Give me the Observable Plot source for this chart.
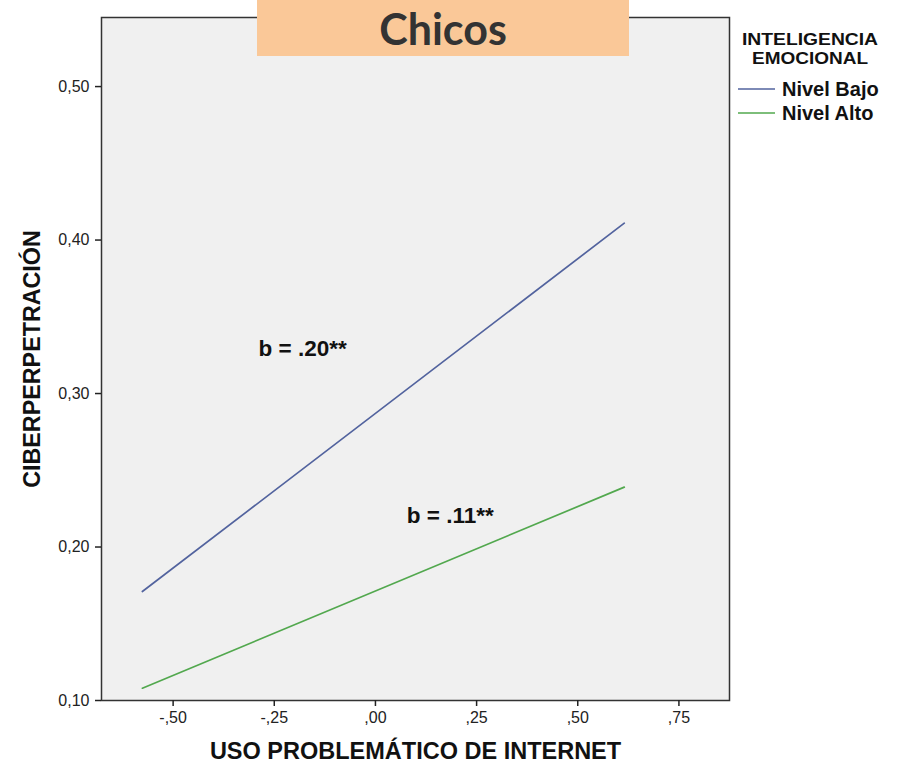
<!DOCTYPE html>
<html><head><meta charset="utf-8">
<script src="https://cdn.jsdelivr.net/npm/d3@7"></script>
<script src="https://cdn.jsdelivr.net/npm/@observablehq/plot@0.6"></script>
<style>
body{margin:0;background:#fff;}
#wrap{position:relative;width:899px;height:772px;font-family:"Liberation Sans",Arial,sans-serif;}
#title{position:absolute;left:257px;top:0;width:372px;height:56px;background:#fac898;color:#333;
font-family:Lato,"Open Sans",sans-serif;font-weight:bold;font-size:43px;line-height:58px;text-align:center;}
</style></head>
<body><div id="wrap"><div id="title">Chicos</div></div>
<script>
const xValues = [-0.576, 0.615];
const nivelBajo = [0.171, 0.411];
const nivelAlto = [0.108, 0.239];
const seriesNames = ["Nivel Bajo", "Nivel Alto"];
const seriesColors = ["#52639e", "#52a84e"];
const xTicks = [-0.5, -0.25, 0, 0.25, 0.5, 0.75];
const yTicks = [0.1, 0.2, 0.3, 0.4, 0.5];
const annoText = ["b = .20**", "b = .11**"];
const annoX = [-0.18, 0.185];
const annoY = [0.329, 0.2205];

const data = [];
xValues.forEach((x, i) => {
  data.push({x, y: nivelBajo[i], s: seriesNames[0]});
  data.push({x, y: nivelAlto[i], s: seriesNames[1]});
});
const annos = annoText.map((t, i) => ({t, x: annoX[i], y: annoY[i]}));

const fx = d => (d < 0 ? "-" : "") + d3.format(".2f")(Math.abs(d)).replace(/^0/, "").replace(".", ",");
const fy = d => d3.format(".2f")(d).replace(".", ",");

const font = "Liberation Sans, Arial, sans-serif";
const chart = Plot.plot({
  width: 899, height: 772,
  marginLeft: 101, marginRight: 170, marginTop: 17, marginBottom: 72,
  style: {fontFamily: font, background: "transparent", color: "#222"},
  x: {domain: [-0.677, 0.875]},
  y: {domain: [0.10, 0.545]},
  color: {domain: seriesNames, range: seriesColors},
  marks: [
    Plot.frame({fill: "#f0f0f0", stroke: "none"}),
    Plot.line(data, {x: "x", y: "y", z: "s", stroke: "s", strokeWidth: 1.7}),
    Plot.text(annos, {x: "x", y: "y", text: "t", fontSize: 22.5, fontWeight: "bold", fill: "#111"}),
    Plot.frame({stroke: "#333", strokeWidth: 1.5}),
    Plot.axisX({ticks: xTicks, tickFormat: fx, tickSize: 6, tickPadding: 5, fontSize: 16, label: null, stroke: "#222", strokeWidth: 1.5}),
    Plot.axisY({ticks: yTicks, tickFormat: fy, tickSize: 6, tickPadding: 6, fontSize: 16, label: null, stroke: "#222", strokeWidth: 1.5}),
    Plot.text(["CIBERPERPETRACIÓN"], {frameAnchor: "left", textAnchor: "middle", text: d => d, rotate: -90, dx: -69, fontSize: 23.3, fontWeight: "bold", fill: "#111"}),
    Plot.text(["USO PROBLEMÁTICO DE INTERNET"], {frameAnchor: "bottom", text: d => d, dy: 58, fontSize: 23.5, fontWeight: "bold", fill: "#111"})
  ]
});
document.getElementById("wrap").prepend(chart);

const svg = d3.select(chart);
const lg = svg.append("g").attr("font-family", font).attr("font-weight", "bold").attr("fill", "#111");
lg.append("text").attr("x", 810).attr("y", 45).attr("text-anchor", "middle").attr("font-size", 16)
  .attr("textLength", 136).attr("lengthAdjust", "spacingAndGlyphs").text("INTELIGENCIA");
lg.append("text").attr("x", 810).attr("y", 64).attr("text-anchor", "middle").attr("font-size", 16)
  .attr("textLength", 116).attr("lengthAdjust", "spacingAndGlyphs").text("EMOCIONAL");
seriesNames.forEach((n, i) => {
  const y = 89 + i * 24;
  lg.append("line").attr("x1", 738).attr("x2", 775).attr("y1", y).attr("y2", y).attr("stroke", seriesColors[i]).attr("stroke-width", 1.7);
  lg.append("text").attr("x", 782).attr("y", y + 7).attr("text-anchor", "start").attr("font-size", 20).text(n);
});
</script></body></html>
